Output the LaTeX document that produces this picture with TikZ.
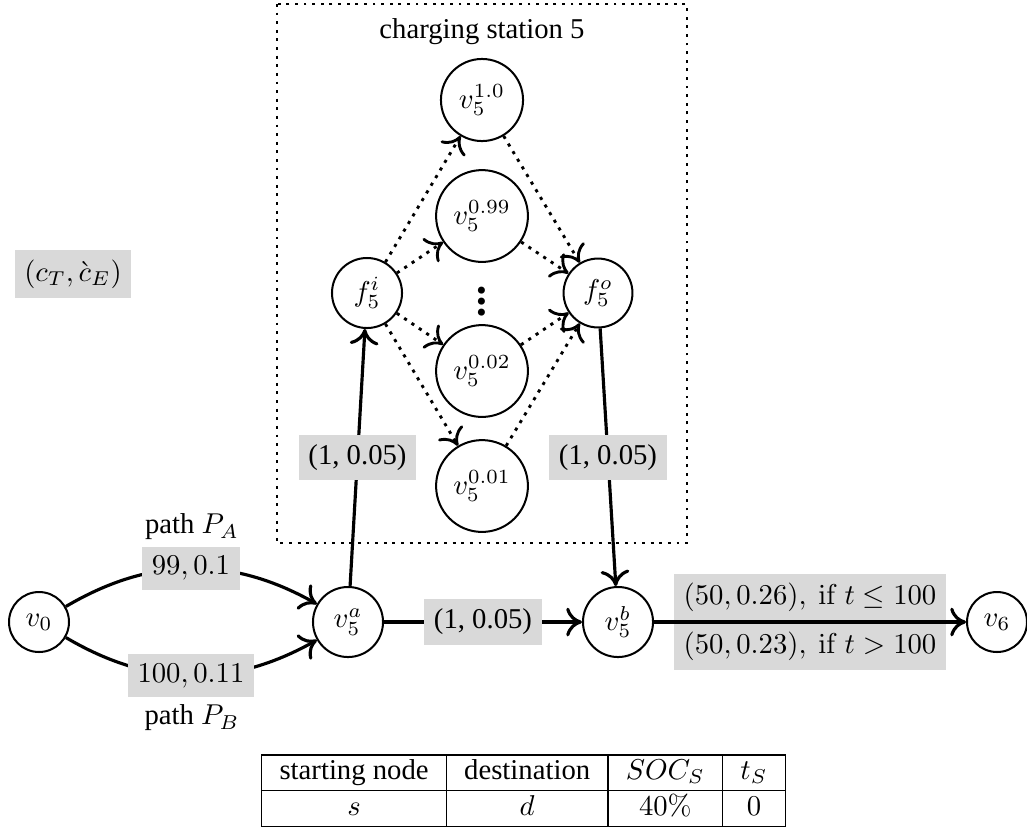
\documentclass[tikz,border=0pt]{standalone}
\usepackage[no-math]{fontspec}
\setmainfont{Liberation Serif}
\usepackage{array}
\usetikzlibrary{arrows.meta}
\begin{document}
\begin{tikzpicture}[x=0.3484pt,y=-0.3484pt,
  vtx/.style={circle,draw,line width=0.7pt,inner sep=0pt},
  lbl/.style={fill=black!15,inner sep=3.33pt},
  arr/.style={line width=1.1pt,-{Computer Modern Rightarrow[length=5.5pt,width=10pt]}},
  darr/.style={arr,dotted,line width=1pt},
  frame/.style={dotted,line width=1pt}]
\useasboundingbox (0,0) rectangle (1027,829);
\draw[frame] (277,4) rectangle (687,543);
\node (cs) at (482,32) {charging station 5};
\node[lbl] (ce) at (73,274) {$(c_T, \grave{c}_E)$};
% nodes
\node[vtx,minimum size=20.9pt] (v0) at (39,622) {$v_0$};
\node[vtx,minimum size=24.4pt] (v5a) at (348,622) {$v_5^a$};
\node[vtx,minimum size=24.4pt] (v5b) at (618,622) {$v_5^b$};
\node[vtx,minimum size=20.9pt] (v6) at (997,622) {$v_6$};
\node[vtx,minimum size=24.4pt] (fi) at (367,293) {$f_5^i$};
\node[vtx,minimum size=24pt] (fo) at (598,293) {$f_5^o$};
\node[vtx,minimum size=28.6pt] (v10) at (482,100) {$v_5^{1.0}$};
\node[vtx,minimum size=32pt] (v099) at (482,216) {$v_5^{0.99}$};
\node[inner sep=0pt] (dots) at (482,293) {\fontsize{15}{15}\selectfont\bfseries\vdots};
\node[vtx,minimum size=32pt] (v002) at (482,371) {$v_5^{0.02}$};
\node[vtx,minimum size=32pt] (v001) at (482,486) {$v_5^{0.01}$};
% dotted arrows
\foreach \t in {v10,v099,v002,v001} {
  \draw[darr] (fi) -- (\t);
  \draw[darr] (\t) -- (fo);
}
% solid arrows
\draw[arr] (v0) to[bend left=30] node[lbl] (l1) {$99, 0.1$} (v5a);
\draw[arr] (v0) to[bend right=30] node[lbl] (l2) {$100, 0.11$} (v5a);
\node (pa) at (192,527) {path $P_A$};
\node (pb) at (192,718) {path $P_B$};
\draw[arr] (v5a) -- node[lbl] (l3) {(1, 0.05)} (v5b);
\draw[arr] (v5a) -- node[lbl] (l4) {(1, 0.05)} (fi);
\draw[arr] (fo) -- node[lbl] (l5) {(1, 0.05)} (v5b);
\path (v5b) -- node[lbl,anchor=south] (l6) {$(50, 0.26),\ \mathrm{if}\ t \leq 100$}
               node[lbl,anchor=north] (l7) {$(50, 0.23),\ \mathrm{if}\ t > 100$} (v6);
\draw[arr] (v5b) -- (v6);
% table
\node[inner sep=0pt] (tab) at (523.5,790.5) {%
\begin{tabular}{|c|c|c|c|}
\hline
starting node & destination & $SOC_S$ & $t_S$\\
\hline
$s$ & $d$ & $40\%$ & $0$\\
\hline
\end{tabular}};
\end{tikzpicture}
\end{document}
